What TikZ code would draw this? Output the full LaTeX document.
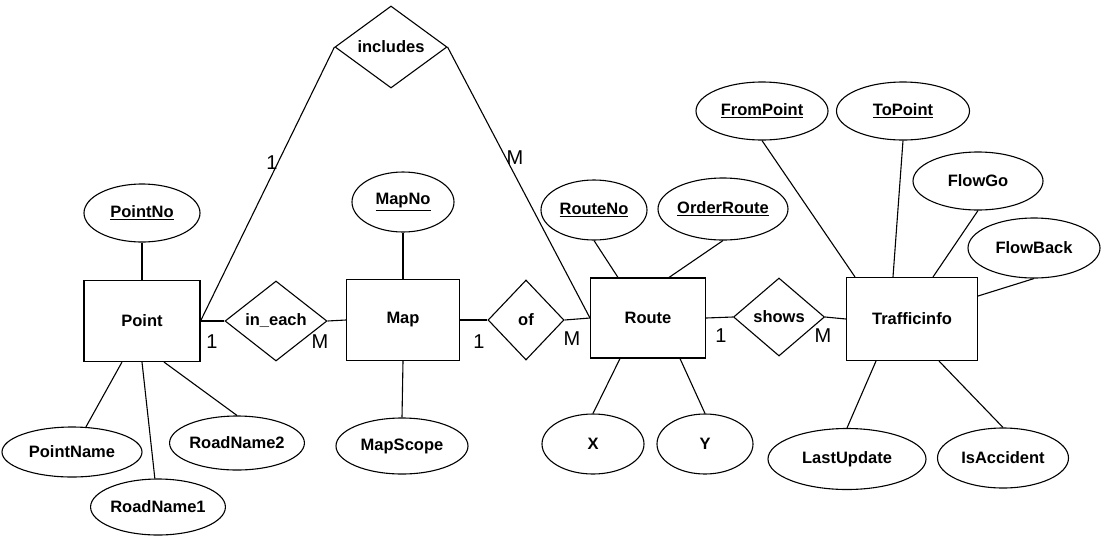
\documentclass[tikz,border=0pt]{standalone}
\usepackage{fontspec}
\setmainfont{Liberation Sans}
\usetikzlibrary{shapes.geometric}

\begin{document}
\begin{tikzpicture}[x=1pt,y=-1pt,line width=1.1pt,
    every node/.style={font=\fontsize{16.5}{18}\selectfont\bfseries,inner sep=0pt},
    ent/.style={draw,rectangle},
    rel/.style={draw,diamond},
    attr/.style={draw,ellipse},
    card/.style={font=\fontsize{20}{22}\selectfont}]
  \useasboundingbox (0,0) rectangle (1106,542);
  % entities
  \node[ent,minimum width=116,minimum height=81] (point) at (142,321) {Point};
  \node[ent,minimum width=113,minimum height=81] (map) at (403,320) {Map};
  \node[ent,minimum width=115,minimum height=80] (route) at (648,318) {Route};
  \node[ent,minimum width=131,minimum height=83] (traffic) at (912,319) {Trafficinfo};
  % relationships
  \node[rel,minimum width=112,minimum height=82] (includes) at (391,47) {includes};
  \node[rel,minimum width=102,minimum height=80] (ineach) at (276,321) {in\_each};
  \node[rel,minimum width=76,minimum height=80] (of) at (526,320) {of};
  \node[rel,minimum width=91,minimum height=78] (shows) at (779,317) {shows};
  % attributes
  \node[attr,minimum width=116,minimum height=58] (pointno) at (142,213) {\underline{PointNo}};
  \node[attr,minimum width=102,minimum height=60] (mapno) at (403,202) {\underline{MapNo}};
  \node[attr,minimum width=106,minimum height=60] (routeno) at (594,210) {\underline{RouteNo}};
  \node[attr,minimum width=130,minimum height=62] (orderroute) at (723,209) {\underline{OrderRoute}};
  \node[attr,minimum width=132,minimum height=58] (frompoint) at (762,111) {\underline{FromPoint}};
  \node[attr,minimum width=133,minimum height=58] (topoint) at (903,111) {\underline{ToPoint}};
  \node[attr,minimum width=130,minimum height=58] (flowgo) at (978,181) {FlowGo};
  \node[attr,minimum width=132,minimum height=60] (flowback) at (1034,248) {FlowBack};
  \node[attr,minimum width=140,minimum height=50] (pointname) at (72,452) {PointName};
  \node[attr,minimum width=132,minimum height=56] (roadname1) at (158,507) {RoadName1};
  \node[attr,minimum width=122,minimum height=54] (roadname2) at (237,443) {RoadName2};
  \node[attr,minimum width=132,minimum height=56] (mapscope) at (402,446) {MapScope};
  \node[attr,minimum width=102,minimum height=60] (x) at (593,444) {X};
  \node[attr,minimum width=96,minimum height=60] (y) at (705,444) {Y};
  \node[attr,minimum width=158,minimum height=61] (lastupdate) at (847,459) {LastUpdate};
  \node[attr,minimum width=131,minimum height=60] (isaccident) at (1003,458) {IsAccident};
  % cardinalities
  \node[card] (c1) at (212,342) {1};
  \node[card] (c2) at (320,342) {M};
  \node[card] (c3) at (479,342) {1};
  \node[card] (c4) at (572,339) {M};
  \node[card] (c5) at (721,336) {1};
  \node[card] (c6) at (823,336) {M};
  \node[card] (c7) at (272,163) {1};
  \node[card] (c8) at (515,158) {M};
  % links
  \draw (point.east) -- (ineach.west);
  \draw (ineach.east) -- (map.west);
  \draw (map.east) -- (of.west);
  \draw (of.east) -- (route.west);
  \draw (route.east) -- (shows.west);
  \draw (shows.east) -- (traffic.west);
  \draw (includes.west) -- (point.east);
  \draw (includes.east) -- (route.west);
  \draw (pointno.south) -- (point.north);
  \draw (pointname) -- ([xshift=-20pt]point.south);
  \draw (roadname1) -- (point.south);
  \draw (roadname2.north) -- ([xshift=22pt]point.south);
  \draw (mapno.south) -- (map.north);
  \draw (mapscope.north) -- (map.south);
  \draw (routeno.south) -- ([xshift=-30pt]route.north);
  \draw (orderroute.south) -- ([xshift=21pt]route.north);
  \draw (x.north) -- ([xshift=-28pt]route.south);
  \draw (y.north) -- ([xshift=32pt]route.south);
  \draw (frompoint.south) -- ([xshift=-57pt]traffic.north);
  \draw (topoint.south) -- ([xshift=-19pt]traffic.north);
  \draw (flowgo.south) -- ([xshift=21pt]traffic.north);
  \draw (flowback.south) -- ([yshift=23pt]traffic.east);
  \draw (lastupdate.north) -- ([xshift=-36pt]traffic.south);
  \draw (isaccident.north) -- ([xshift=27pt]traffic.south);
\end{tikzpicture}
\end{document}
